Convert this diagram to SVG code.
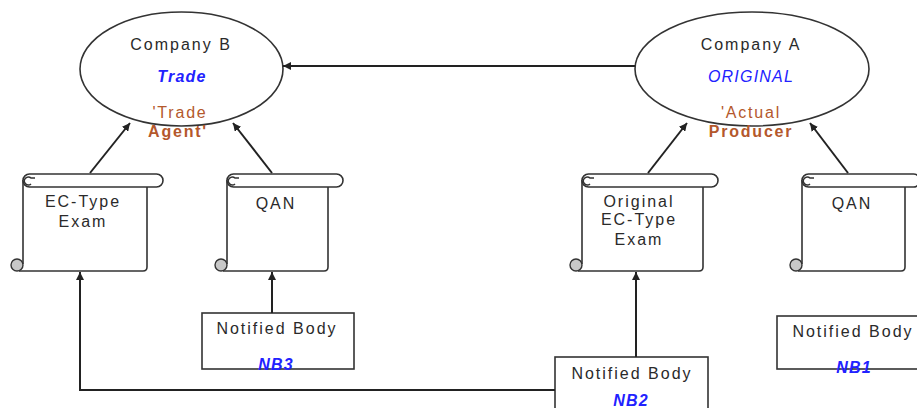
<svg xmlns="http://www.w3.org/2000/svg" width="917" height="408" viewBox="0 0 917 408">
<defs>
<marker id="ah" viewBox="0 0 10 10" refX="10" refY="5" markerWidth="8" markerHeight="8" markerUnits="userSpaceOnUse" orient="auto">
<path d="M0,0 L10,5 L0,10 z" fill="#222"/>
</marker>
<style>
.sh{fill:#fff;stroke:#333;stroke-width:1.6}
.curl{fill:#c8c8c8;stroke:#333;stroke-width:1.4}
.t{font-family:"Liberation Sans",Arial,sans-serif;font-size:16px;fill:#2a2a2a;text-anchor:middle;letter-spacing:2px}
.b{font-family:"Liberation Sans",Arial,sans-serif;font-size:16px;fill:#2222ff;text-anchor:middle;font-style:italic;letter-spacing:1.2px}
.br{font-family:"Liberation Sans",Arial,sans-serif;font-size:16px;fill:#b4582c;text-anchor:middle;letter-spacing:1.8px}
.c{fill:none;stroke:#222;stroke-width:2;marker-end:url(#ah)}
</style>
</defs>
<rect width="917" height="408" fill="#fff"/>

<g id="companyB">
<ellipse class="sh" cx="181.5" cy="69" rx="101.5" ry="57"/>
<text class="t" x="181" y="50">Company B</text>
<text class="b" x="182" y="82" font-weight="bold">Trade</text>
<text class="br" x="180" y="118">'Trade</text>
<text class="br" x="178" y="137" font-weight="bold">Agent'</text>
</g>

<g id="companyA">
<ellipse class="sh" cx="752" cy="69" rx="117" ry="57"/>
<text class="t" x="751" y="50">Company A</text>
<text class="b" x="751" y="82">ORIGINAL</text>
<text class="br" x="751" y="118">'Actual</text>
<text class="br" x="751" y="137" font-weight="bold">Producer</text>
</g>

<g id="ecTypeExam">
<path class="sh" d="M23,180 V264 M19,271 H143 Q147,271 147,267 V187"/>
<rect class="sh" x="23" y="174" width="140" height="13" rx="6.5"/>
<path class="sh" d="M31,184 a4,4 0 1 1 0,-6 h4"/>
<circle class="curl" cx="17" cy="265" r="6"/>
<text class="t" x="83" y="207">EC-Type</text>
<text class="t" x="83" y="227">Exam</text>
</g>

<g id="qanB">
<path class="sh" d="M227,180 V264 M223,271 H324 Q328,271 328,267 V187"/>
<rect class="sh" x="227" y="174" width="116" height="13" rx="6.5"/>
<path class="sh" d="M235,184 a4,4 0 1 1 0,-6 h4"/>
<circle class="curl" cx="221" cy="265" r="6"/>
<text class="t" x="276" y="209">QAN</text>
</g>

<g id="origEcTypeExam">
<path class="sh" d="M582,180 V264 M578,271 H699 Q703,271 703,267 V187"/>
<rect class="sh" x="582" y="174" width="136" height="13" rx="6.5"/>
<path class="sh" d="M590,184 a4,4 0 1 1 0,-6 h4"/>
<circle class="curl" cx="576" cy="265" r="6"/>
<text class="t" x="639" y="207">Original</text>
<text class="t" x="639" y="225">EC-Type</text>
<text class="t" x="639" y="245">Exam</text>
</g>

<g id="qanA">
<path class="sh" d="M802,180 V264 M798,271 H901 Q905,271 905,267 V187"/>
<rect class="sh" x="802" y="174" width="118" height="13" rx="6.5"/>
<path class="sh" d="M810,184 a4,4 0 1 1 0,-6 h4"/>
<circle class="curl" cx="796" cy="265" r="6"/>
<text class="t" x="852" y="209">QAN</text>
</g>

<g id="nb3">
<rect class="sh" x="202" y="313" width="152" height="56"/>
<text class="t" x="277" y="334">Notified Body</text>
<text class="b" x="276" y="370" font-weight="bold">NB3</text>
</g>

<g id="nb2">
<rect class="sh" x="555" y="357" width="153" height="60"/>
<text class="t" x="632" y="379">Notified Body</text>
<text class="b" x="631" y="406" font-weight="bold">NB2</text>
</g>

<g id="nb1">
<rect class="sh" x="777" y="316" width="150" height="53"/>
<text class="t" x="853" y="337">Notified Body</text>
<text class="b" x="854" y="373" font-weight="bold">NB1</text>
</g>

<g id="connectors">
<path class="c" d="M635,66 H283"/>
<path class="c" d="M90,173 L130,123"/>
<path class="c" d="M272,173 L233,123"/>
<path class="c" d="M648,173 L687,123"/>
<path class="c" d="M848,173 L810,123"/>
<path class="c" d="M272,313 V272"/>
<path class="c" d="M636,357 V272"/>
<path class="c" d="M555,390 H80 V272"/>
</g>
</svg>
